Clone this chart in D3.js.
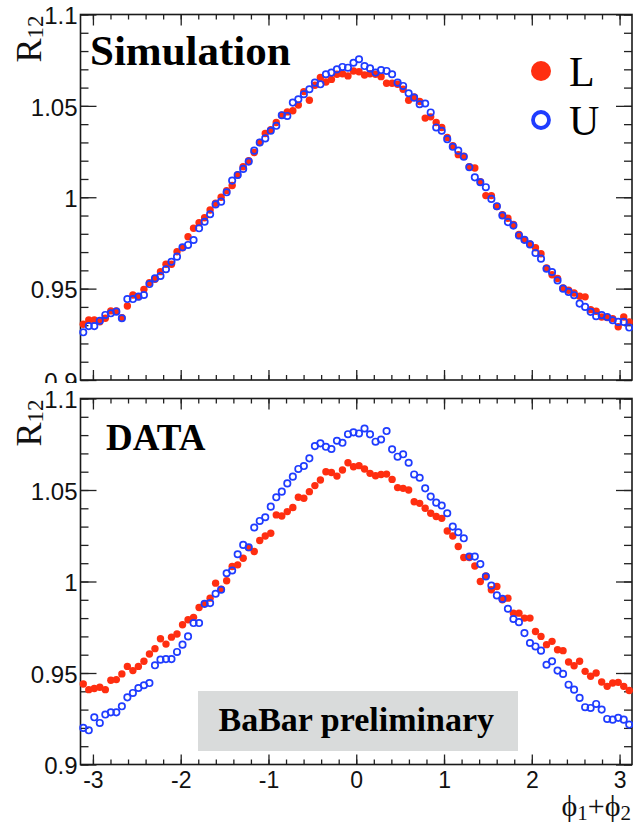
<!DOCTYPE html>
<html>
<head>
<meta charset="utf-8">
<script src="https://cdn.jsdelivr.net/npm/d3@7"></script>
<style>
  body { margin: 0; background: #fff; }
  svg { display: block; font-family: "Liberation Serif", "DejaVu Serif", serif; }
</style>
</head>
<body>
<div id="chart"></div>
<script>
// R12 in 100 bins of phi1+phi2 from -pi to pi
var simL = [0.9305,0.9328,0.9328,0.9319,0.9338,0.9378,0.9378,0.9341,0.9405,0.9465,
            0.9456,0.9496,0.9532,0.9551,0.9593,0.9633,0.9633,0.9702,0.9724,0.9784,
            0.983,0.9861,0.9888,0.993,0.9967,1.0,1.0036,1.0064,1.0122,1.0167,
            1.02,1.0245,1.03,1.0349,1.0369,1.0409,1.0449,1.0467,1.0473,1.0505,
            1.0578,1.0531,1.0613,1.0655,1.0631,1.0645,1.0673,1.0676,1.0664,1.0691,
            1.0687,1.0669,1.0676,1.0673,1.066,1.0624,1.0624,1.0618,1.0591,1.0531,
            1.0549,1.0524,1.0433,1.044,1.0409,1.0382,1.0327,1.0282,1.0233,1.0224,
            1.0167,1.016,1.0085,1.0009,1.0009,0.9949,0.9904,0.9885,0.9851,0.9796,
            0.9767,0.9745,0.9724,0.9691,0.9613,0.9576,0.9555,0.9504,0.9491,0.9476,
            0.9458,0.9455,0.9385,0.9376,0.9345,0.9342,0.9336,0.9291,0.9345,0.9318];
var simU = [0.9261,0.9295,0.9295,0.9324,0.9356,0.9365,0.9374,0.9338,0.9443,0.9443,
            0.9456,0.9465,0.9525,0.9556,0.9569,0.9606,0.9647,0.9675,0.9726,0.9739,
            0.9766,0.983,0.9866,0.9907,0.9961,0.9976,1.0027,1.0091,1.0122,1.0155,
            1.0195,1.0255,1.03,1.0322,1.0364,1.0391,1.0449,1.0445,1.0518,1.0536,
            1.0564,1.0591,1.0627,1.0618,1.0673,1.0682,1.07,1.0713,1.0709,1.0736,
            1.0755,1.0718,1.0705,1.0682,1.0696,1.0691,1.0673,1.0627,1.0609,1.0569,
            1.0545,1.0509,1.0513,1.0464,1.0382,1.0364,1.0318,1.0276,1.0255,1.0222,
            1.0164,1.0109,1.0082,1.0055,0.9991,0.9951,0.99,0.9864,0.9845,0.9791,
            0.9767,0.9742,0.9695,0.9664,0.9609,0.9591,0.9545,0.95,0.9482,0.9464,
            0.9418,0.94,0.9373,0.9349,0.9355,0.9345,0.9327,0.9318,0.9318,0.9287];
var dataL = [0.944,0.9409,0.9415,0.9422,0.9409,0.946,0.9464,0.9495,0.9536,0.9513,
             0.9536,0.9564,0.9604,0.9633,0.9687,0.9658,0.9696,0.9713,0.9764,0.9791,
             0.9804,0.9858,0.9878,0.9909,0.9991,0.9958,1.0004,1.0082,1.0091,1.0127,
             1.0185,1.0164,1.0224,1.0249,1.0264,1.0364,1.0358,1.0382,1.0404,1.046,
             1.0455,1.0491,1.0524,1.0555,1.06,1.0596,1.0576,1.0609,1.0649,1.0627,
             1.0633,1.0615,1.0591,1.0578,1.0585,1.0587,1.0558,1.0513,1.0509,1.05,
             1.0436,1.0427,1.04,1.0373,1.0355,1.0345,1.0276,1.0249,1.0191,1.0131,
             1.0131,1.0085,1.0,1.0031,0.9955,0.9973,0.99,0.9909,0.9827,0.9827,
             0.98,0.98,0.9727,0.97,0.9655,0.9673,0.9627,0.9622,0.956,0.954,
             0.9564,0.9509,0.9482,0.95,0.9451,0.9427,0.9445,0.9449,0.9427,0.9404];
var dataU = [0.92,0.9187,0.9258,0.9227,0.9273,0.9285,0.9285,0.9318,0.9367,0.9391,
             0.9418,0.9433,0.9445,0.9542,0.9573,0.9576,0.9576,0.9615,0.9655,0.97,
             0.9773,0.9773,0.9878,0.9882,0.9933,0.9955,1.0045,1.006,1.0149,1.02,
             1.0187,1.0295,1.0331,1.0351,1.0409,1.046,1.0491,1.0536,1.0573,1.0615,
             1.0631,1.0673,1.074,1.0755,1.0736,1.0724,1.0769,1.0758,1.0805,1.0815,
             1.0809,1.0836,1.0804,1.0764,1.0776,1.0822,1.0722,1.0682,1.0695,1.0649,
             1.0585,1.0567,1.0509,1.0464,1.0431,1.0415,1.0373,1.03,1.0269,1.0236,
             1.0136,1.0136,1.0095,1.0027,0.9978,0.9924,0.9905,0.9851,0.9795,0.9778,
             0.9718,0.9664,0.9645,0.9622,0.9545,0.9564,0.9513,0.9495,0.9436,0.9409,
             0.9364,0.9313,0.9309,0.9331,0.93,0.9249,0.9245,0.9255,0.9245,0.9218];

var xMajor = [-3, -2, -1, 0, 1, 2, 3];
var xMinor = d3.range(-30, 31, 2).map(function(d) { return d / 10; });
var yMajor = [0.9, 0.95, 1.0, 1.05, 1.1];
var yMinor = d3.range(90, 111, 1).map(function(d) { return d / 100; });
var legendNames = ["L", "U"];

var redCol = "#ff2e10";
var blueCol = "#1f3cff";

var width = 633, height = 826;
var left = 80.5, right = 632;

var nBins = simL.length;
var binCenters = d3.range(nBins).map(function(i) { return -Math.PI + (i + 0.5) * 2 * Math.PI / nBins; });

var svg = d3.select("#chart").append("svg")
    .attr("width", width)
    .attr("height", height);

var x = d3.scaleLinear().domain([-Math.PI, Math.PI]).range([left, right]);

function drawPanel(g, top, bottom, L, U, showXLabels) {
    var y = d3.scaleLinear().domain([0.9, 1.1]).range([bottom, top]);

    // ticks pointing inwards on all four sides
    g.append("g").attr("transform", "translate(0," + bottom + ")")
        .call(d3.axisBottom(x).tickValues(xMinor).tickSize(-5).tickFormat(""));
    g.append("g").attr("transform", "translate(0," + top + ")")
        .call(d3.axisTop(x).tickValues(xMinor).tickSize(-5).tickFormat(""));
    g.append("g").attr("transform", "translate(0," + top + ")")
        .call(d3.axisTop(x).tickValues(xMajor).tickSize(-11).tickFormat(""));
    var xb = g.append("g").attr("transform", "translate(0," + bottom + ")")
        .call(d3.axisBottom(x).tickValues(xMajor).tickSize(-10).tickPadding(7)
            .tickFormat(function(d) { return showXLabels ? String(d) : ""; }));
    xb.selectAll("text").attr("font-size", "23px").attr("fill", "#111");

    g.append("g").attr("transform", "translate(" + left + ",0)")
        .call(d3.axisLeft(y).tickValues(yMinor).tickSize(-8).tickFormat(""));
    g.append("g").attr("transform", "translate(" + right + ",0)")
        .call(d3.axisRight(y).tickValues(yMinor).tickSize(-8).tickFormat(""));
    g.append("g").attr("transform", "translate(" + right + ",0)")
        .call(d3.axisRight(y).tickValues(yMajor).tickSize(-16).tickFormat(""));
    var yl = g.append("g").attr("transform", "translate(" + left + ",0)")
        .call(d3.axisLeft(y).tickValues(yMajor).tickSize(-16).tickPadding(3)
            .tickFormat(function(d) { return String(+d.toFixed(2)); }));
    yl.selectAll("text").attr("font-size", "24px").attr("dy", "0.38em").attr("fill", "#111");

    g.selectAll(".domain").remove();
    g.selectAll(".tick line").attr("stroke", "#222").attr("stroke-width", 1.3);

    g.append("rect")
        .attr("x", left).attr("y", top)
        .attr("width", right - left).attr("height", bottom - top)
        .attr("fill", "none").attr("stroke", "#1a1a1a").attr("stroke-width", 1.6);

    g.append("g").selectAll("circle")
        .data(L)
        .enter().append("circle")
        .attr("cx", function(d, i) { return x(binCenters[i]); })
        .attr("cy", function(d) { return y(d); })
        .attr("r", 3.7)
        .attr("fill", redCol);

    g.append("g").selectAll("circle")
        .data(U)
        .enter().append("circle")
        .attr("cx", function(d, i) { return x(binCenters[i]); })
        .attr("cy", function(d) { return y(d); })
        .attr("r", 3.2)
        .attr("fill", "none")
        .attr("stroke", blueCol)
        .attr("stroke-width", 1.7);

    // R12 axis title
    var t = g.append("text")
        .attr("transform", "translate(41," + (top + 1) + ") rotate(-90)")
        .attr("text-anchor", "end")
        .attr("font-size", "36px")
        .attr("fill", "#111");
    t.append("tspan").text("R");
    t.append("tspan").attr("font-size", "23px").attr("dy", "0.1em").text("12");

    return y;
}

var gTop = svg.append("g");
drawPanel(gTop, 14.5, 380, simL, simU, false);

gTop.append("text")
    .attr("x", 90).attr("y", 65)
    .attr("font-size", "43px").attr("font-weight", "bold")
    .text("Simulation");

// legend
var legY = [71, 120];
gTop.append("circle").attr("cx", 541).attr("cy", legY[0]).attr("r", 10).attr("fill", redCol);
gTop.append("circle").attr("cx", 541).attr("cy", legY[1]).attr("r", 8)
    .attr("fill", "none").attr("stroke", blueCol).attr("stroke-width", 3.8);
gTop.selectAll(".legtext")
    .data(legendNames)
    .enter().append("text")
    .attr("class", "legtext")
    .attr("x", 569)
    .attr("y", function(d, i) { return legY[i] + 15; })
    .attr("font-size", "42px")
    .text(function(d) { return d; });

// lower pad covers the bottom of the upper one
svg.append("rect").attr("x", 0).attr("y", 383).attr("width", width).attr("height", height - 383).attr("fill", "#fff");

var gBot = svg.append("g");
gBot.append("rect")
    .attr("x", 198).attr("y", 691)
    .attr("width", 320).attr("height", 60)
    .attr("fill", "#d9dbdb");
drawPanel(gBot, 398.5, 764.5, dataL, dataU, true);

gBot.append("text")
    .attr("x", 106).attr("y", 450)
    .attr("font-size", "37px").attr("font-weight", "bold")
    .text("DATA");

gBot.append("text")
    .attr("x", x(0)).attr("y", 731)
    .attr("text-anchor", "middle")
    .attr("font-size", "34px").attr("font-weight", "bold")
    .text("BaBar preliminary");

// x axis title
var xt = gBot.append("text")
    .attr("x", 631).attr("y", 816)
    .attr("text-anchor", "end")
    .attr("font-size", "30px")
    .attr("fill", "#111");
xt.append("tspan").text("\u03D5");
xt.append("tspan").attr("font-size", "21px").attr("dy", 4).text("1");
xt.append("tspan").attr("dy", -4).text("+\u03D5");
xt.append("tspan").attr("font-size", "21px").attr("dy", 4).text("2");
</script>
</body>
</html>
